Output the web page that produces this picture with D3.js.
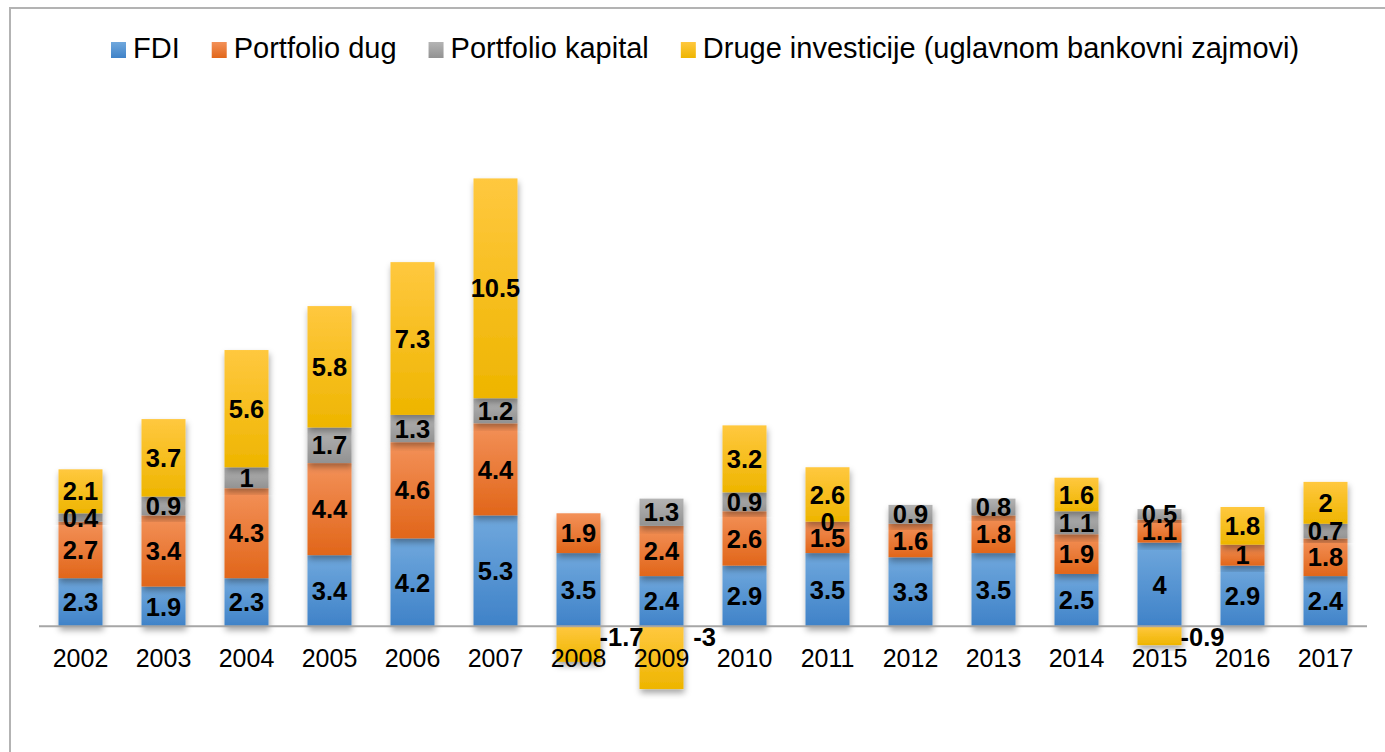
<!DOCTYPE html>
<html>
<head>
<meta charset="utf-8">
<script src="https://cdn.jsdelivr.net/npm/d3@7"></script>
<style>
  body { margin: 0; background: #fff; }
  text { font-family: "Liberation Sans", Arial, sans-serif; }
</style>
</head>
<body>
<script>
// podaci
const years = ["2002","2003","2004","2005","2006","2007","2008","2009","2010","2011","2012","2013","2014","2015","2016","2017"];
const fdi = [2.3, 1.9, 2.3, 3.4, 4.2, 5.3, 3.5, 2.4, 2.9, 3.5, 3.3, 3.5, 2.5, 4, 2.9, 2.4];
const portfolioDug = [2.7, 3.4, 4.3, 4.4, 4.6, 4.4, 1.9, 2.4, 2.6, 1.5, 1.6, 1.8, 1.9, 1.1, 1, 1.8];
const portfolioKapital = [0.4, 0.9, 1, 1.7, 1.3, 1.2, null, 1.3, 0.9, 0, 0.9, 0.8, 1.1, 0.5, null, 0.7];
const drugeInvesticije = [2.1, 3.7, 5.6, 5.8, 7.3, 10.5, -1.7, -3, 3.2, 2.6, null, null, 1.6, -0.9, 1.8, 2];
const seriesNames = ["FDI", "Portfolio dug", "Portfolio kapital", "Druge investicije (uglavnom bankovni zajmovi)"];

const width = 1385, height = 752;
const colors = [
  ["#70a8dd", "#3f82c8"],
  ["#f39159", "#e1661a"],
  ["#b4b4b4", "#929292"],
  ["#ffc83f", "#eeb500"]
];

const svg = d3.select("body").append("svg")
  .attr("width", width)
  .attr("height", height);

const defs = svg.append("defs");
colors.forEach((c, i) => {
  const g = defs.append("linearGradient")
    .attr("id", "grad" + i)
    .attr("x1", 0).attr("y1", 0).attr("x2", 0).attr("y2", 1);
  g.append("stop").attr("offset", "0%").attr("stop-color", c[0]);
  g.append("stop").attr("offset", "100%").attr("stop-color", c[1]);
});
defs.append("filter")
  .attr("id", "shadow")
  .attr("x", "-30%").attr("y", "-30%").attr("width", "160%").attr("height", "160%")
  .append("feDropShadow")
  .attr("dx", 1).attr("dy", 4).attr("stdDeviation", 3)
  .attr("flood-color", "#000").attr("flood-opacity", 0.35);

// okvir
svg.append("rect")
  .attr("x", 10).attr("y", 8)
  .attr("width", width + 20).attr("height", height + 20)
  .attr("fill", "none")
  .attr("stroke", "#b3b3b3")
  .attr("stroke-width", 2);

// skale
const x = d3.scaleBand()
  .domain(years)
  .range([39, 1367])
  .paddingInner(0.47)
  .paddingOuter(0.235);

const y = d3.scaleLinear()
  .domain([-4, 24])
  .range([710, 124]);

// slaganje pozitivnih i negativnih vrijednosti
const allSeries = [fdi, portfolioDug, portfolioKapital, drugeInvesticije];
const segments = [];
years.forEach((yr, i) => {
  let pos = 0, neg = 0;
  allSeries.forEach((s, k) => {
    const v = s[i];
    if (v === null) return;
    let y0, y1;
    if (v >= 0) { y0 = pos; y1 = pos + v; pos = y1; }
    else { y0 = neg; y1 = neg + v; neg = y1; }
    segments.push({ year: yr, k: k, v: v, y0: y0, y1: y1 });
  });
});

const bars = svg.append("g");
bars.selectAll("rect")
  .data(segments.filter(d => d.v !== 0))
  .enter()
  .append("rect")
  .attr("x", d => x(d.year))
  .attr("width", x.bandwidth())
  .attr("y", d => y(Math.max(d.y0, d.y1)))
  .attr("height", d => Math.abs(y(d.y0) - y(d.y1)))
  .attr("fill", d => "url(#grad" + d.k + ")")
  .attr("filter", "url(#shadow)");

// os x
svg.append("line")
  .attr("x1", 39).attr("x2", 1367)
  .attr("y1", y(0)).attr("y2", y(0))
  .attr("stroke", "#a6a6a6")
  .attr("stroke-width", 2);

const xAxis = d3.axisBottom(x).tickSize(0).tickPadding(0);
const axisG = svg.append("g")
  .attr("transform", `translate(0, ${y(0)})`)
  .call(xAxis);
axisG.select(".domain").remove();
axisG.selectAll("text")
  .attr("y", 41)
  .attr("dy", 0)
  .attr("font-size", 25)
  .attr("fill", "#000")
  .style("font-family", "'Liberation Sans', Arial, sans-serif");

// oznake vrijednosti
svg.append("g").selectAll("text")
  .data(segments)
  .enter()
  .append("text")
  .attr("x", d => d.v < 0 ? x(d.year) + x.bandwidth() / 2 + 43 : x(d.year) + x.bandwidth() / 2)
  .attr("y", d => d.v < 0 ? y(0) + 20 : y((d.y0 + d.y1) / 2))
  .attr("dy", d => d.v < 0 ? 0 : "0.36em")
  .attr("text-anchor", "middle")
  .attr("font-size", 25.5)
  .attr("font-weight", "bold")
  .attr("fill", "#000")
  .text(d => d.v);

// legenda
const legend = svg.append("g");
let lx = 111;
seriesNames.forEach((name, i) => {
  legend.append("rect")
    .attr("x", lx).attr("y", 42)
    .attr("width", 15).attr("height", 16)
    .attr("fill", "url(#grad" + i + ")");
  const t = legend.append("text")
    .attr("x", lx + 22).attr("y", 58)
    .attr("font-size", 29)
    .attr("fill", "#000")
    .text(name);
  lx += 22 + t.node().getComputedTextLength() + 32;
});
</script>
</body>
</html>
